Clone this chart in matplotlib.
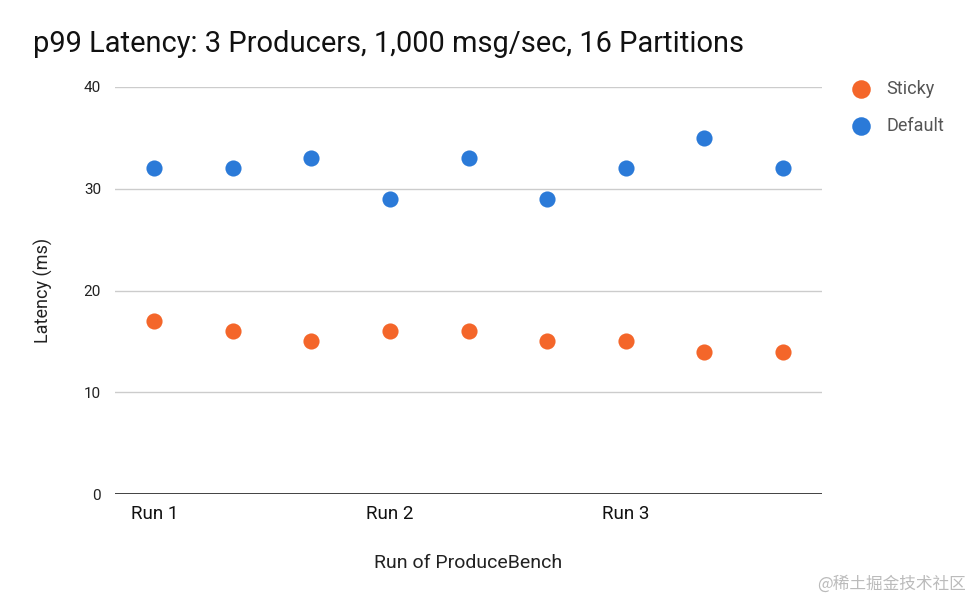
import matplotlib
matplotlib.use("Agg")
import matplotlib.pyplot as plt

runs = [1, 2, 3, 4, 5, 6, 7, 8, 9]
sticky = [17, 16, 15, 16, 16, 15, 15, 14, 14]
default = [32, 32, 33, 29, 33, 29, 32, 35, 32]
tick_pos = [1, 4, 7]
tick_labels = ["Run 1", "Run 2", "Run 3"]
y_ticks = [0, 10, 20, 30, 40]

plt.rcParams['font.family'] = ['Roboto', 'DejaVu Sans']

fig = plt.figure(figsize=(9.74, 6.02), dpi=100)
ax = fig.add_axes([115/974, 1-494/602, (822-115)/974, (494-87)/602])

c_sticky = "#F4662A"
c_default = "#2B7AD8"
ax.scatter(runs, sticky, s=135, color=c_sticky, zorder=3, linewidths=0, label="Sticky")
ax.scatter(runs, default, s=135, color=c_default, zorder=3, linewidths=0, label="Default")

ax.set_xlim(0.5, 9.5)
ax.set_ylim(0, 40)
ax.set_yticks(y_ticks)
ax.set_yticklabels([str(v) for v in y_ticks], fontsize=11, color="#222222")
ax.set_xticks(tick_pos)
ax.set_xticklabels(tick_labels, fontsize=13.5, color="#111111")
ax.tick_params(axis='both', length=0)
ax.tick_params(axis='y', pad=10)
ax.tick_params(axis='x', pad=8)

for v in y_ticks[1:]:
    ax.axhline(v, color="#cccccc", lw=1, zorder=1)
ax.axhline(0, color="#333333", lw=1.3, zorder=2)
for s in ax.spines.values():
    s.set_visible(False)

ax.set_xlabel("Run of ProduceBench", fontsize=14, color="#222222", labelpad=22)
ax.set_ylabel("Latency (ms)", fontsize=13, color="#222222", labelpad=22)

fig.text(33/974, 1-44/602, "p99 Latency: 3 Producers, 1,000 msg/sec, 16 Partitions",
         fontsize=20.9, color="#111111", va="center", ha="left")

leg = ax.legend(loc="upper left", bbox_to_anchor=(1.02, 1.035), frameon=False,
                fontsize=13, handletextpad=0.4, labelspacing=1.05, markerscale=1.15,
                borderaxespad=0)
for t in leg.get_texts():
    t.set_color("#555555")

fig.text(966/974, 1-584/602, "@稀土掘金技术社区", fontsize=12, color="#bbbbbb",
         ha="right", va="center", family=['Noto Sans CJK SC', 'DejaVu Sans'])

fig.savefig("out.png", dpi=100)
